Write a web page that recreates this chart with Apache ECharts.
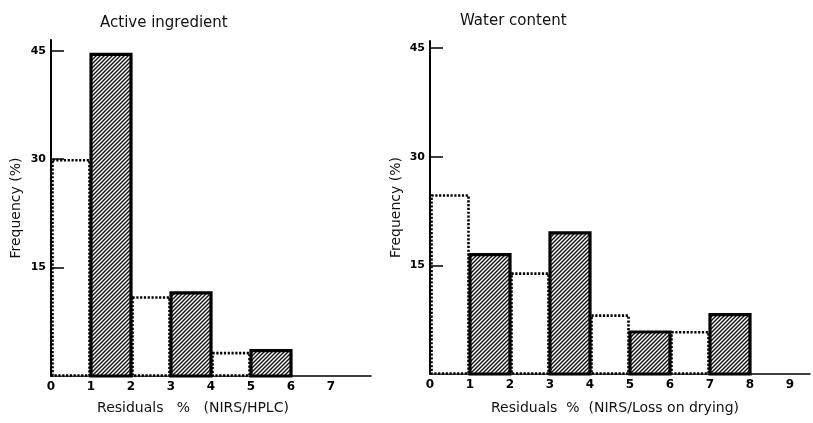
<!DOCTYPE html>
<html>
<head>
<meta charset="utf-8">
<script src="https://cdn.jsdelivr.net/npm/echarts@6/dist/echarts.min.js"></script>
<style>html,body{margin:0;padding:0;background:#fff}#c{width:813px;height:423px}</style>
</head>
<body>
<div id="c"></div>
<script>
// ---- data ----
const leftTitle = 'Active ingredient';
const rightTitle = 'Water content';
const leftXName = 'Residuals   %   (NIRS/HPLC)';
const rightXName = 'Residuals  %  (NIRS/Loss on drying)';
const yName = 'Frequency (%)';
const leftBinStarts = [0, 1, 2, 3, 4, 5];
const leftFreq = [30, 44.5, 11, 11.5, 3.3, 3.5];
const rightBinStarts = [0, 1, 2, 3, 4, 5, 6, 7];
const rightFreq = [24.8, 16.5, 14, 19.5, 8.2, 5.8, 5.9, 8.2];
const leftXTicks = [0, 1, 2, 3, 4, 5, 6, 7];
const rightXTicks = [0, 1, 2, 3, 4, 5, 6, 7, 8, 9];
const yTicks = [15, 30, 45];

// hatch pattern
const hatch = document.createElement('canvas');
hatch.width = 4; hatch.height = 4;
(function () {
  const g = hatch.getContext('2d');
  g.fillStyle = '#fff'; g.fillRect(0, 0, 4, 4);
  g.strokeStyle = '#111'; g.lineWidth = 1.4;
  g.beginPath();
  g.moveTo(0, 4); g.lineTo(4, 0);
  g.moveTo(-1, 1); g.lineTo(1, -1);
  g.moveTo(3, 5); g.lineTo(5, 3);
  g.stroke();
})();

function binData(starts, vals) {
  return starts.map((s, i) => [s, s + 1, vals[i]]);
}

function renderItem(params, api) {
  const x0 = api.value(0), x1 = api.value(1), v = api.value(2);
  const p0 = api.coord([x0, 0]);
  const p1 = api.coord([x1, v]);
  const hatched = params.dataIndex % 2 === 1;
  const shape = { x: p0[0], y: p1[1], width: p1[0] - p0[0], height: p0[1] - p1[1] };
  if (hatched) {
    return { type: 'rect', z2: 10, shape: shape,
      style: { fill: { image: hatch, repeat: 'repeat' }, stroke: '#000', lineWidth: 3.2 } };
  }
  return { type: 'rect', z2: 5,
    shape: { x: shape.x + 1.5, y: shape.y + 1, width: shape.width - 3, height: shape.height - 1.5 },
    style: { fill: '#fff', stroke: '#000', lineWidth: 2.6, lineDash: [2.2, 1.6] } };
}

const font = 'DejaVu Sans';
function xAxis(idx, max, ticks, name, gap, pad) {
  return {
    type: 'value', gridIndex: idx, min: 0, max: max, z: 1,
    name: name, nameLocation: 'middle', nameGap: gap,
    nameTextStyle: { fontFamily: font, fontSize: 14, color: '#111', padding: pad },
    axisLine: { show: true, lineStyle: { color: '#000', width: 1.5 } },
    axisTick: { show: false },
    splitLine: { show: false },
    axisLabel: { customValues: ticks, fontFamily: font, fontWeight: 'bold', fontSize: 12, color: '#000', margin: 5 }
  };
}
function yAxis(idx, max, gap) {
  return {
    type: 'value', gridIndex: idx, min: 0, max: max, z: 20,
    name: yName, nameLocation: 'middle', nameGap: gap, nameRotate: 90,
    nameTextStyle: { fontFamily: font, fontSize: 14, color: '#111' },
    axisLine: { show: true, lineStyle: { color: '#000', width: 2 } },
    axisTick: { show: true, inside: true, length: 13, customValues: yTicks, lineStyle: { color: '#000', width: 1.5 } },
    splitLine: { show: false },
    axisLabel: { customValues: yTicks, fontFamily: font, fontWeight: 'bold', fontSize: 11, color: '#000', margin: 5 }
  };
}

const chart = echarts.init(document.getElementById('c'), null, { renderer: 'canvas' });
chart.setOption({
  backgroundColor: '#fff',
  animation: false,
  title: [
    { text: leftTitle, left: 95, top: 11, textStyle: { fontFamily: font, fontSize: 15, fontWeight: 'normal', color: '#111' } },
    { text: rightTitle, left: 455, top: 9, textStyle: { fontFamily: font, fontSize: 15, fontWeight: 'normal', color: '#111' } }
  ],
  grid: [
    { left: 51, top: 40, width: 320, height: 336 },
    { left: 430, top: 41, width: 380, height: 333 }
  ],
  xAxis: [
    xAxis(0, 8, leftXTicks, leftXName, 25, [0, 36, 0, 0]),
    xAxis(1, 9.5, rightXTicks, rightXName, 27, [0, 10, 0, 0])
  ],
  yAxis: [ yAxis(0, 46.5, 28), yAxis(1, 46, 27) ],
  series: [
    { type: 'custom', xAxisIndex: 0, yAxisIndex: 0, z: 2, renderItem: renderItem, data: binData(leftBinStarts, leftFreq) },
    { type: 'custom', xAxisIndex: 1, yAxisIndex: 1, z: 2, renderItem: renderItem, data: binData(rightBinStarts, rightFreq) }
  ]
});
</script>
</body>
</html>
